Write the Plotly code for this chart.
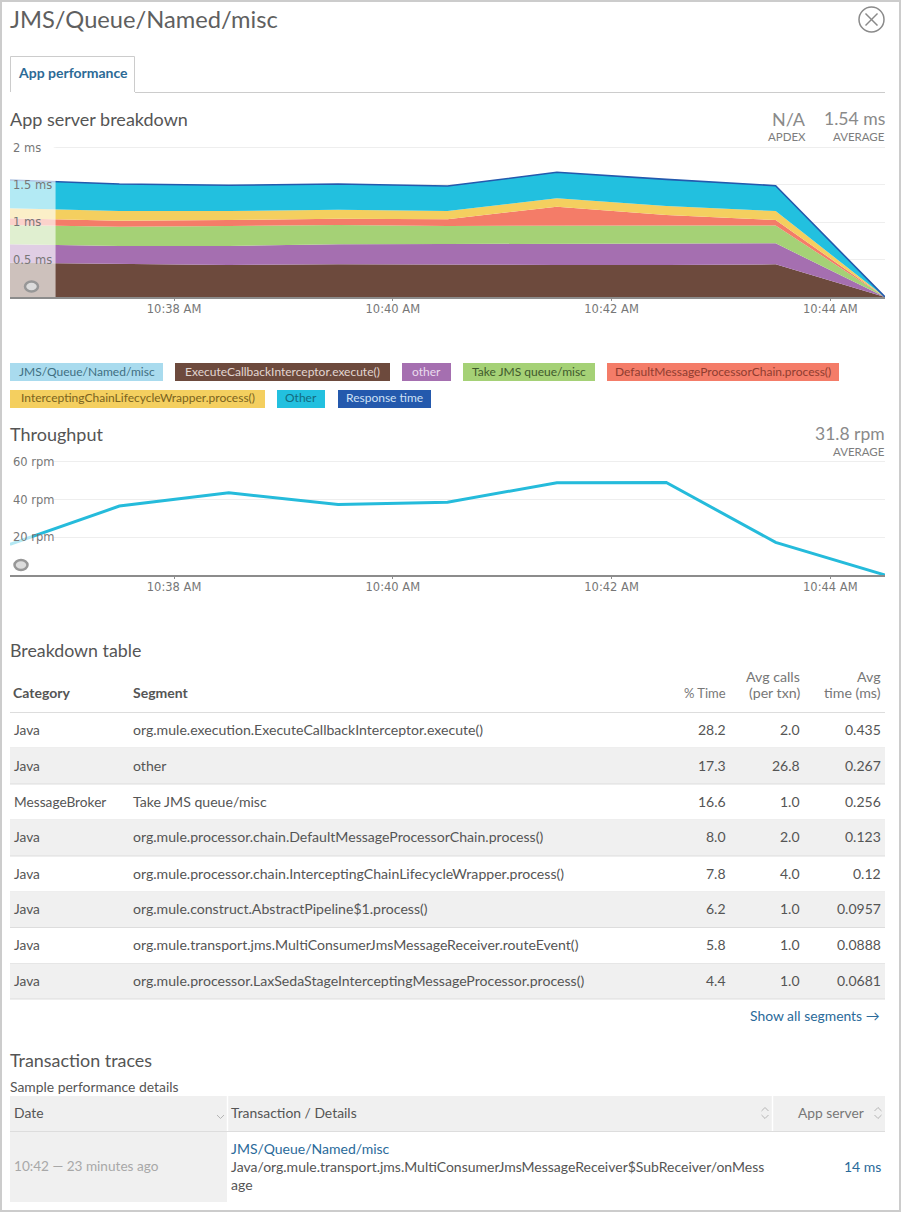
import plotly.graph_objects as go

W, H = 901, 1212

# ---------- data ----------
TIMES = ["2016-01-01 10:36:30", "2016-01-01 10:37:30", "2016-01-01 10:38:30",
         "2016-01-01 10:39:30", "2016-01-01 10:40:30", "2016-01-01 10:41:30",
         "2016-01-01 10:42:30", "2016-01-01 10:43:30", "2016-01-01 10:44:30"]
TICK_TIMES = ["2016-01-01 10:38", "2016-01-01 10:40", "2016-01-01 10:42", "2016-01-01 10:44"]
TICK_LABELS = ["10:38 AM", "10:40 AM", "10:42 AM", "10:44 AM"]

EXECUTE = [.459, .440, .428, .437, .428, .428, .428, .437, 0]
OTHER_LC = [.246, .242, .254, .268, .281, .281, .281, .281, 0]
TAKE_JMS = [.258, .258, .268, .258, .241, .249, .249, .240, 0]
DEFAULT_CHAIN = [.089, .080, .080, .085, .090, .250, .139, .072, 0]
INTERCEPTING = [.134, .130, .120, .120, .110, .112, .120, .120, 0]
OTHER_UC = [.379, .362, .344, .344, .335, .348, .357, .339, 0]
RESPONSE = [1.565, 1.512, 1.494, 1.512, 1.485, 1.668, 1.574, 1.489, 0]
THROUGHPUT = [16.2, 36.5, 43.5, 37.4, 38.5, 48.9, 49, 17.3, 0]

MS_TICKS = [0.5, 1, 1.5, 2]
MS_LABELS = ["0.5 ms", "1 ms", "1.5 ms", "2 ms"]
RPM_TICKS = [20, 40, 60]
RPM_LABELS = ["20 rpm", "40 rpm", "60 rpm"]

LEGEND_NAMES = ["JMS/Queue/Named/misc", "ExecuteCallbackInterceptor.execute()", "other",
                "Take JMS queue/misc", "DefaultMessageProcessorChain.process()",
                "InterceptingChainLifecycleWrapper.process()",
                "Other", "Response time"]

T_CATEGORY = ["Java", "Java", "MessageBroker", "Java", "Java", "Java", "Java", "Java"]
T_SEGMENT = ["org.mule.execution.ExecuteCallbackInterceptor.execute()", "other", "Take JMS queue/misc",
             "org.mule.processor.chain.DefaultMessageProcessorChain.process()",
             "org.mule.processor.chain.InterceptingChainLifecycleWrapper.process()",
             "org.mule.construct.AbstractPipeline$1.process()",
             "org.mule.transport.jms.MultiConsumerJmsMessageReceiver.routeEvent()",
             "org.mule.processor.LaxSedaStageInterceptingMessageProcessor.process()"]
T_PCT = ["28.2", "17.3", "16.6", "8.0", "7.8", "6.2", "5.8", "4.4"]
T_CALLS = ["2.0", "26.8", "1.0", "2.0", "4.0", "1.0", "1.0", "1.0"]
T_TIME = ["0.435", "0.267", "0.256", "0.123", "0.12", "0.0957", "0.0888", "0.0681"]

# ---------- styles ----------
C_BROWN, C_PURPLE, C_GREEN, C_ORANGE, C_YELLOW, C_CYAN, C_BLUE = (
    "#6d4a3d", "#a56fb0", "#a5d176", "#f47c68", "#f4cf5f", "#22c0df", "#2459ad")
FONT = "Lato"
AXF = "DejaVu Sans"
TXT = "#555555"
LINK = "#2a6a9a"


def px(x):
    return x / W


def py(y):
    return 1 - y / H


shapes, annos = [], []


def text(x, y, s, size=13, color=TXT, anchor="left", family=FONT, bold=False):
    annos.append(dict(x=px(x), y=py(y - 1), xref="paper", yref="paper", text=f"<b>{s}</b>" if bold else s,
                      showarrow=False, xanchor=anchor, yanchor="middle", align=anchor,
                      font=dict(size=size, color=color, family=family), borderpad=0, borderwidth=0))


def rect(x0, y0, x1, y1, fill=None, line=None, lw=1):
    shapes.append(dict(type="rect", xref="paper", yref="paper", x0=px(x0), x1=px(x1), y0=py(y0), y1=py(y1),
                       fillcolor=fill or "rgba(0,0,0,0)", line=dict(color=line or "rgba(0,0,0,0)", width=lw if line else 0),
                       layer="below"))


def hline(x0, x1, y, color="#dddddd", lw=1):
    shapes.append(dict(type="line", xref="paper", yref="paper", x0=px(x0), x1=px(x1), y0=py(y), y1=py(y),
                       line=dict(color=color, width=lw), layer="below"))


def vline(x, y0, y1, color="#dddddd", lw=1):
    shapes.append(dict(type="line", xref="paper", yref="paper", x0=px(x), x1=px(x), y0=py(y0), y1=py(y1),
                       line=dict(color=color, width=lw), layer="below"))


def ellipse(cx, cy, rx, ry, fill, line, lw=1, layer="above"):
    shapes.append(dict(type="circle", xref="paper", yref="paper", x0=px(cx - rx), x1=px(cx + rx),
                       y0=py(cy + ry), y1=py(cy - ry), fillcolor=fill, line=dict(color=line, width=lw), layer=layer))


def polyline(points, color="#bbbbbb", lw=1):
    path = "M " + " L ".join(f"{px(a):.5f},{py(b):.5f}" for a, b in points)
    shapes.append(dict(type="path", xref="paper", yref="paper", path=path, line=dict(color=color, width=lw)))


# ---------- traces ----------
fig = go.Figure()
stack = [("ExecuteCallbackInterceptor.execute()", EXECUTE, C_BROWN),
         ("other", OTHER_LC, C_PURPLE),
         ("Take JMS queue/misc", TAKE_JMS, C_GREEN),
         ("DefaultMessageProcessorChain.process()", DEFAULT_CHAIN, C_ORANGE),
         ("InterceptingChainLifecycleWrapper.process()", INTERCEPTING, C_YELLOW),
         ("Other", OTHER_UC, C_CYAN)]
for name, vals, col in stack:
    fig.add_trace(go.Scatter(x=TIMES, y=vals, name=name, mode="lines", stackgroup="one",
                             line=dict(width=0, color=col), fillcolor=col, xaxis="x", yaxis="y"))
fig.add_trace(go.Scatter(x=TIMES, y=RESPONSE, name="Response time", mode="lines",
                         line=dict(width=1.6, color=C_BLUE), xaxis="x", yaxis="y"))
# time-window veil at the left of each chart (tick labels stay above it)
fig.add_trace(go.Scatter(x=["2016-01-01 10:36:30", "2016-01-01 10:36:55", "2016-01-01 10:36:55", "2016-01-01 10:36:30"],
                         y=[0, 0, 2, 2], mode="none", fill="toself", fillcolor="rgba(255,255,255,0.66)",
                         xaxis="x", yaxis="y", hoverinfo="skip"))
fig.add_trace(go.Scatter(x=TIMES, y=THROUGHPUT, name="Throughput", mode="lines",
                         line=dict(width=3, color="#25bbdb"), xaxis="x2", yaxis="y2"))
fig.add_trace(go.Scatter(x=["2016-01-01 10:36:30", "2016-01-01 10:36:42", "2016-01-01 10:36:42", "2016-01-01 10:36:30"],
                         y=[0, 0, 60, 60], mode="none", fill="toself", fillcolor="rgba(255,255,255,0.66)",
                         xaxis="x2", yaxis="y2", hoverinfo="skip"))

# ---------- page furniture ----------
rect(1, 1, 900, 1211, line="#cccccc", lw=2)
text(10, 20, "JMS/Queue/Named/misc", size=23.7, color="#5f5f5f")
ellipse(871.5, 19.5, 12.5, 12.5, "white", "#8a8a8a", 1.5)
polyline([(865.5, 13.5), (877.5, 25.5)], "#8a8a8a", 1.5)
polyline([(877.5, 13.5), (865.5, 25.5)], "#8a8a8a", 1.5)

hline(135, 885, 92.5, "#cccccc")
polyline([(10.5, 92), (10.5, 56.5), (134.5, 56.5), (134.5, 92)], "#cccccc", 1)
text(18, 74, "App performance", size=14, color="#2c6a96", bold=True)

text(10, 120, "App server breakdown", size=18)
text(806, 120, "N/A", size=18, color="#8a8a8a", anchor="right")
text(806, 137.5, "APDEX", size=11.5, color="#7d7d7d", anchor="right")
text(885, 120, "1.54 ms", size=17.6, color="#8a8a8a", anchor="right")
text(885, 137.5, "AVERAGE", size=11.5, color="#7d7d7d", anchor="right")

# legend chips
chips = [(10, 163, 363, 381, "#a9dbee", "#3f6f82"), (175, 390, 363, 381, C_BROWN, "#e2d6d1"),
         (402, 451, 363, 381, C_PURPLE, "#eadcee"), (463, 595, 363, 381, C_GREEN, "#3f5a2c"),
         (607, 839, 363, 381, C_ORANGE, "#8f3d30"), (10, 265, 390, 408, C_YELLOW, "#7a6320"),
         (277, 325, 390, 408, C_CYAN, "#136a80"), (338, 431, 390, 408, C_BLUE, "#cfe0f5")]
for (x0, x1, y0, y1, fill, tc), name in zip(chips, LEGEND_NAMES):
    rect(x0, y0, x1, y1, fill=fill)
    text((x0 + x1) / 2, (y0 + y1) / 2, name, size=12, color=tc, anchor="center")

text(10, 435, "Throughput", size=18)
text(885, 435, "31.8 rpm", size=17.5, color="#8a8a8a", anchor="right")
text(885, 452.5, "AVERAGE", size=11.5, color="#7d7d7d", anchor="right")

# knobs
for cx, cy in [(31.5, 286.5), (21, 565)]:
    ellipse(cx, cy, 6.5, 5, "#dcdcdc", "#979797", 2.5)

# breakdown table
text(10, 651, "Breakdown table", size=17.8)
text(13, 694, "Category", size=14, bold=True)
text(133, 694, "Segment", size=14, bold=True)
text(726, 694, "% Time", size=13, color="#777777", anchor="right")
text(800, 677, "Avg calls", size=14.2, color="#777777", anchor="right")
text(800, 694, "(per txn)", size=14.2, color="#777777", anchor="right")
text(881, 677, "Avg", size=14.2, color="#777777", anchor="right")
text(881, 694, "time (ms)", size=14.2, color="#777777", anchor="right")
row_tops = [712.5, 748, 784, 820, 856, 892, 927.5, 963.5, 999]
hline(10, 885, row_tops[0], "#dddddd")
for i, cat in enumerate(T_CATEGORY):
    y0, y1 = row_tops[i], row_tops[i + 1]
    if i % 2 == 1:
        rect(10, y0, 885, y1, fill="#f0f0f0")
    hline(10, 885, y1, "#dddddd")
    ym = (y0 + y1) / 2
    text(13.5, ym, cat, size=13.7)
    text(133, ym, T_SEGMENT[i], size=14.1)
    text(726, ym, T_PCT[i], size=14, anchor="right")
    text(800, ym, T_CALLS[i], size=14, anchor="right")
    text(881, ym, T_TIME[i], size=14, anchor="right")
text(880, 1016, "Show all segments →", size=13.9, color=LINK, anchor="right")

# transaction traces
text(10, 1061, "Transaction traces", size=17.9)
text(10, 1087, "Sample performance details", size=13.9)
rect(10, 1096, 885, 1131, fill="#f0f0f0")
vline(227.5, 1096, 1131, "#ffffff", 1.5)
vline(772.5, 1096, 1131, "#ffffff", 1.5)
hline(10, 885, 1131.5, "#dddddd")
rect(10, 1132, 227, 1202, fill="#f0f0f0")
text(14, 1113, "Date", size=13.9)
text(231, 1113, "Transaction / Details", size=13.9)
text(864, 1113, "App server", size=13.8, color="#777777", anchor="right")
text(14, 1167, "10:42 — 23 minutes ago", size=13.6, color="#a8a8a8")
text(231, 1149, "JMS/Queue/Named/misc", size=14, color=LINK)
text(231, 1167, "Java/org.mule.transport.jms.MultiConsumerJmsMessageReceiver$SubReceiver/onMess", size=14)
text(231, 1185, "age", size=14)
text(881, 1167, "14 ms", size=14, color=LINK, anchor="right")
polyline([(217, 1115), (220.5, 1118.5), (224, 1115)], "#b5b5b5", 1)
for cx in (765, 878):
    polyline([(cx - 3.5, 1111), (cx, 1107.5), (cx + 3.5, 1111)], "#b5b5b5", 1)
    polyline([(cx - 3.5, 1115), (cx, 1118.5), (cx + 3.5, 1115)], "#b5b5b5", 1)

# opaque masks so the grid starts right of the tick labels
for xr, yr, top in (("x", "y", 2), ("x2", "y2", 60)):
    shapes.append(dict(type="rect", xref=xr, yref=yr, x0="2016-01-01 10:36:30", x1="2016-01-01 10:36:54",
                       y0=0, y1=top * 1.01, fillcolor="white", line=dict(width=0), layer="between"))

xbase = dict(type="date", range=["2016-01-01 10:36:30", "2016-01-01 10:44:30"], tickvals=TICK_TIMES,
             ticktext=TICK_LABELS, showgrid=False, zeroline=False, showline=True, linecolor="#8c8c8c",
             linewidth=2, ticks="outside", ticklen=2, tickcolor="#8c8c8c", ticklabelstandoff=-2,
             tickfont=dict(family=AXF, size=11.5, color="#777777"))
ybase = dict(showgrid=True, gridcolor="#eeeeee", gridwidth=1, zeroline=False, showline=False, ticks="",
             ticklabelposition="inside", tickfont=dict(family=AXF, size=11.5, color="#777777"))

# y ranges run a little past the top tick so that its inside label is kept
fig.update_layout(
    width=W, height=H, autosize=False, showlegend=False,
    margin=dict(l=0, r=0, t=0, b=0), paper_bgcolor="white", plot_bgcolor="rgba(0,0,0,0)",
    xaxis=dict(domain=[px(10), px(885)], anchor="y", **xbase),
    yaxis=dict(domain=[py(297), py(297 - 2.16 * 74.75)], anchor="x", range=[0, 2.16], tickvals=MS_TICKS, ticktext=MS_LABELS, **ybase),
    xaxis2=dict(domain=[px(10), px(885)], anchor="y2", **xbase),
    yaxis2=dict(domain=[py(575), py(575 - 66 * 1.888)], anchor="x2", range=[0, 66], tickvals=RPM_TICKS, ticktext=RPM_LABELS, **ybase),
    shapes=shapes, annotations=annos,
)
fig.write_html("out.html", config={"displayModeBar": False},
               post_script="document.body.style.margin='0';document.documentElement.style.overflow='hidden';")
